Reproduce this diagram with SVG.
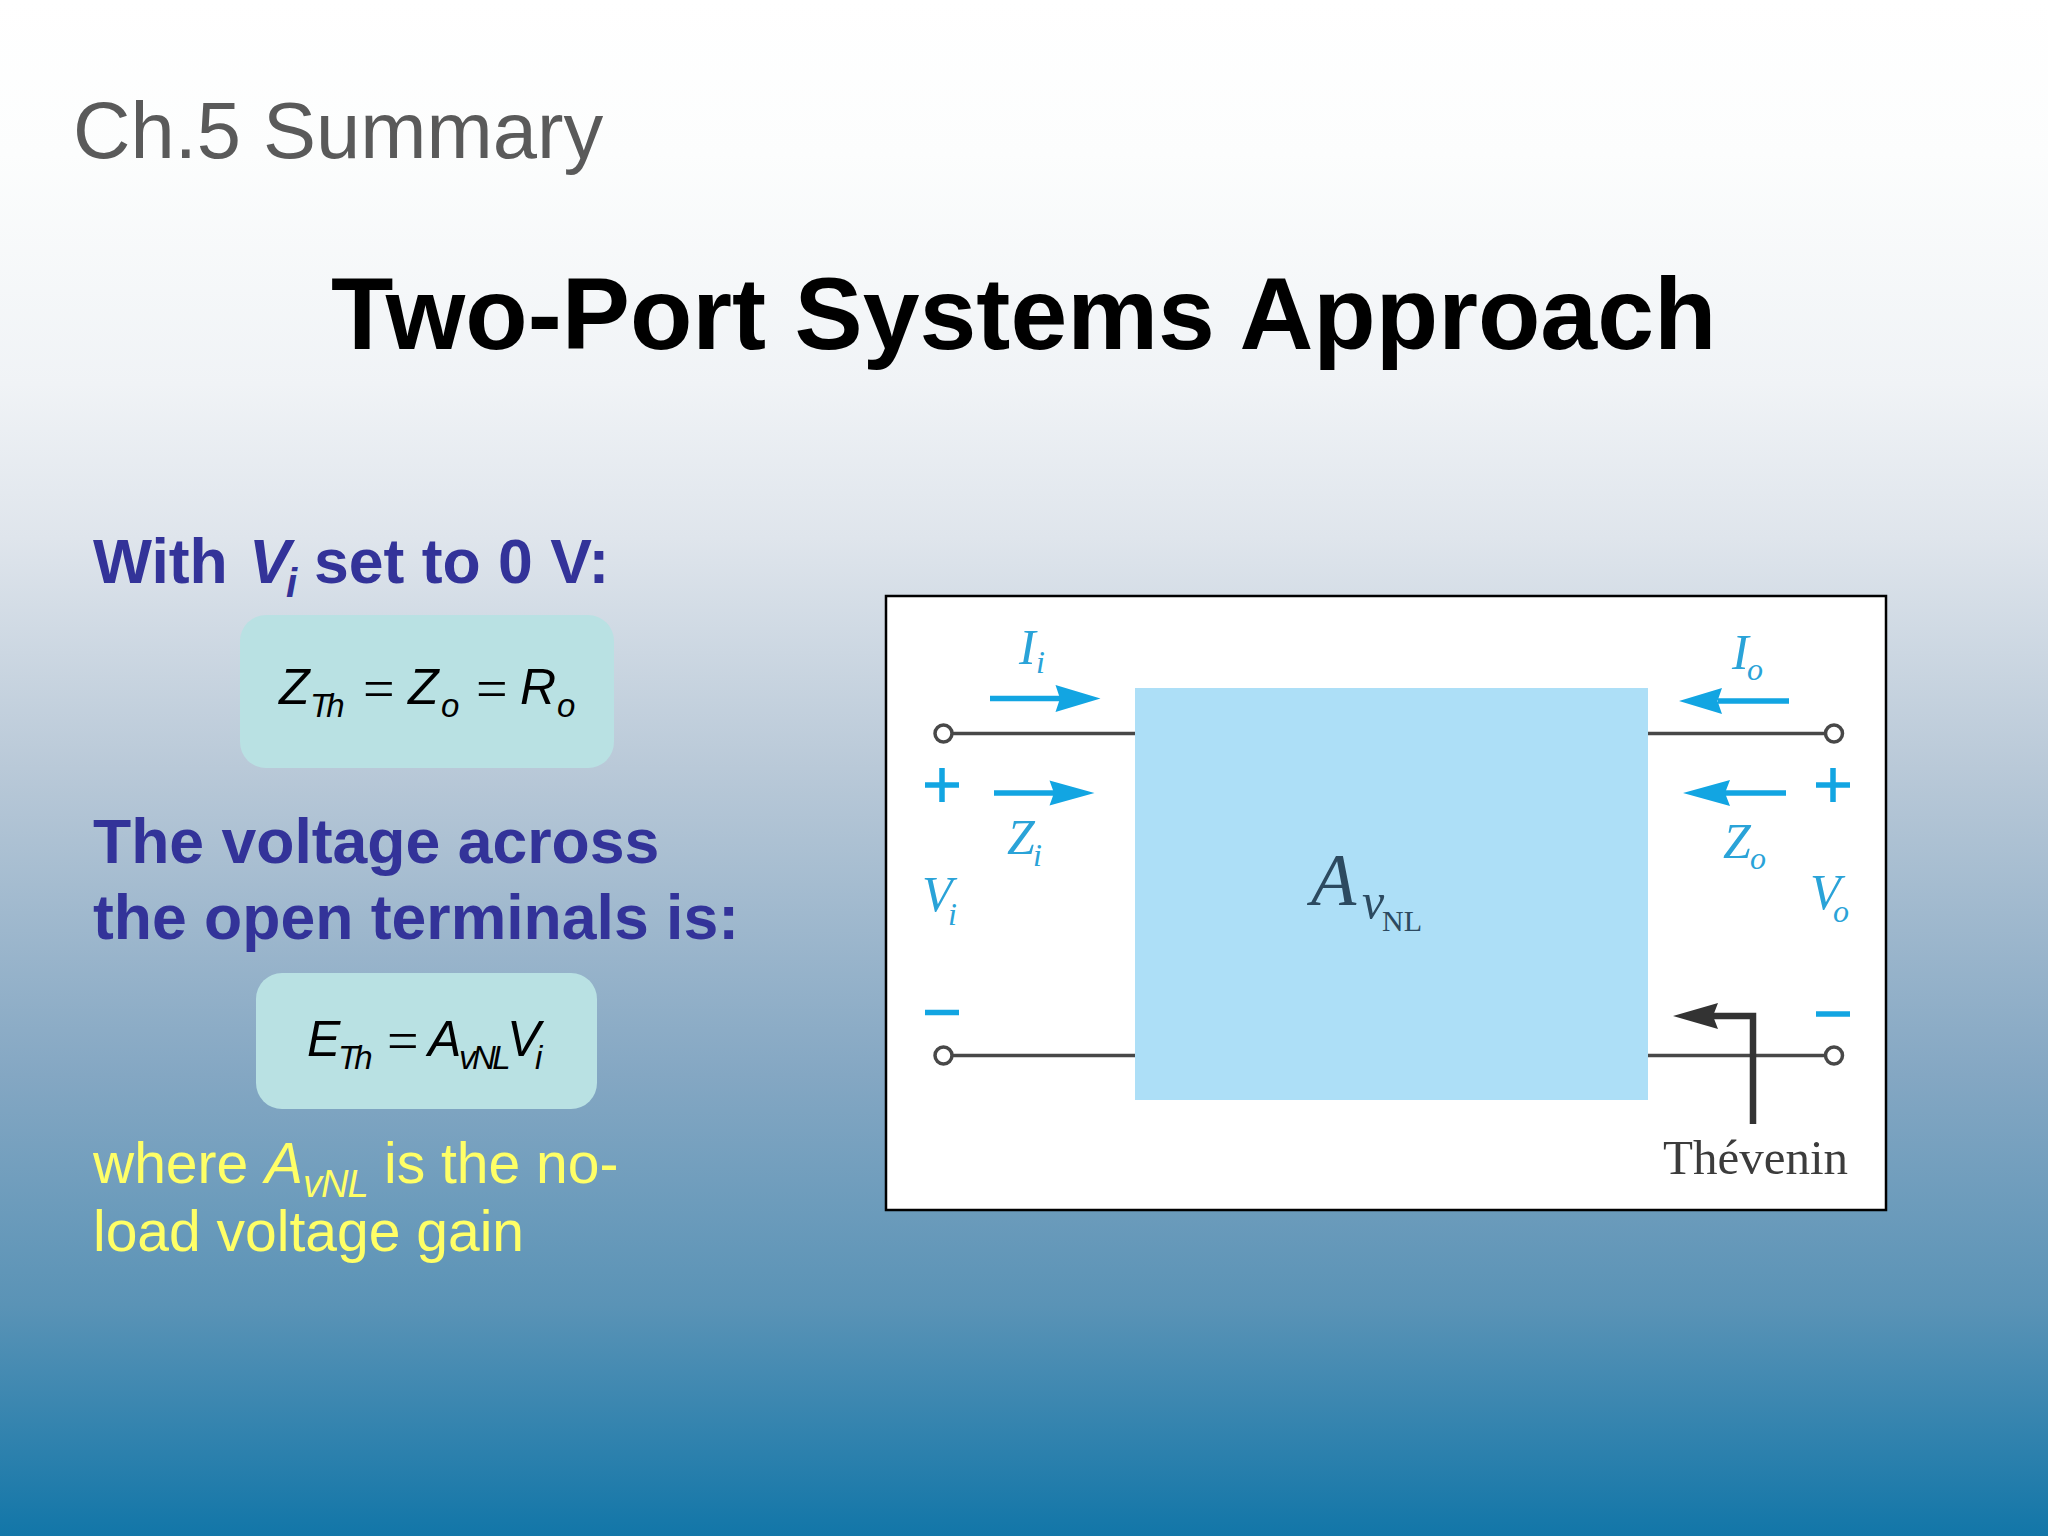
<svg xmlns="http://www.w3.org/2000/svg" width="2048" height="1536" viewBox="0 0 2048 1536">
<style>
text{font-family:"Liberation Sans",Arial,sans-serif}
.body{font-size:62.500px;font-weight:700;fill:#333399}
.yl{font-size:57px;fill:#ffff66}
.eq{font-size:50px;font-style:italic;fill:#000}
.eqs{font-size:33px;font-style:italic;fill:#000}
.op{font-family:"Liberation Serif",serif;font-size:56px;fill:#000}
.box{fill:#b9e1e3}
.t{font-family:"Liberation Serif",serif;font-style:italic;fill:#2aa3d8;font-size:50px}
.ts{font-family:"Liberation Serif",serif;font-style:italic;fill:#2aa3d8;font-size:32px}
.gain{font-family:"Liberation Serif",serif;fill:#2c4a60}
.thev{font-family:"Liberation Serif",serif;font-size:49px;fill:#3c3c3c}
.wire{fill:none;stroke:#484848;stroke-width:3.500}
.term{fill:#fff;stroke:#484848;stroke-width:3.500}
.cy{stroke:#12a5e2;fill:none}
.cyf{fill:#12a5e2}
</style>
<defs>
<linearGradient id="bg" x1="0" y1="0" x2="0" y2="1">
<stop offset="0" stop-color="#ffffff"/>
<stop offset="0.1" stop-color="#fcfdfd"/>
<stop offset="0.25" stop-color="#f0f3f6"/>
<stop offset="0.35" stop-color="#dfe5ec"/>
<stop offset="0.5" stop-color="#b9c9d8"/>
<stop offset="0.7" stop-color="#84a7c3"/>
<stop offset="0.85" stop-color="#5a93b6"/>
<stop offset="1" stop-color="#1276a8"/>
</linearGradient>
</defs>
<rect id="background" width="2048" height="1536" fill="url(#bg)"/>
<g id="headings">
<text x="73" y="158" font-size="79.500" fill="#5a5a5a">Ch.5 Summary</text>
<text x="331" y="349" font-size="102.200" font-weight="700" fill="#000">Two-Port Systems Approach</text>
</g>
<g id="text-with-vi">
<text class="body" x="93" y="583">With</text>
<text class="body" x="249" y="583" font-style="italic">V</text>
<text x="286" y="597" font-size="40" font-style="italic" font-weight="700" fill="#333399">i</text>
<text class="body" x="314" y="583">set to 0 V:</text>
</g>
<g id="eq-zth">
<rect class="box" x="240" y="615" width="374" height="153" rx="26"/>
<text class="eq" x="279" y="704">Z</text>
<text class="eqs" x="310" y="717" letter-spacing="-4">Th</text>
<text class="op" x="363" y="708">=</text>
<text class="eq" x="408" y="704">Z</text>
<text class="eqs" x="441" y="717">o</text>
<text class="op" x="476" y="708">=</text>
<text class="eq" x="520" y="704">R</text>
<text class="eqs" x="557" y="717">o</text>
</g>
<g id="text-voltage">
<text class="body" x="93" y="863">The voltage across</text>
<text class="body" x="93" y="939">the open terminals is:</text>
</g>
<g id="eq-eth">
<rect class="box" x="256" y="973" width="341" height="136" rx="26"/>
<text class="eq" x="307" y="1056">E</text>
<text class="eqs" x="338" y="1069" letter-spacing="-4">Th</text>
<text class="op" x="387" y="1060">=</text>
<text class="eq" x="428" y="1056">A</text>
<text class="eqs" x="459" y="1069" letter-spacing="-3.500">vNL</text>
<text class="eq" x="507" y="1056">V</text>
<text class="eqs" x="535" y="1069">i</text>
</g>
<g id="text-where">
<text class="yl" x="93" y="1183">where</text>
<text class="yl" x="265" y="1183" font-style="italic">A</text>
<text x="303" y="1197" font-size="38" font-style="italic" fill="#ffff66" letter-spacing="-1">vNL</text>
<text class="yl" x="384" y="1183">is the no-</text>
<text class="yl" x="93" y="1251">load voltage gain</text>
</g>
<g id="figure-frame">
<rect x="886" y="596" width="1000" height="614" fill="#fff" stroke="#000" stroke-width="2.500"/>
</g>
<g id="connectors">
<path class="wire" d="M952 733.500H1135M1647 733.500H1825M952 1055.500H1135M1647 1055.500H1825"/>
<path class="cy" stroke-width="5.500" d="M990 698.500H1060M994 793H1055M1789 701H1718M1786 793H1725"/>
<path class="cyf" d="M1100.500 698.500L1055.500 685L1060 698.500L1055.500 712ZM1094.500 793L1049.500 780.500L1054 793L1049.500 805.500ZM1679 701L1722 688L1717.500 701L1722 714ZM1683 793L1730 780L1725 793L1730 806Z"/>
<path d="M1753 1124V1016H1710" fill="none" stroke="#333" stroke-width="6.500"/>
<path d="M1673 1016L1718 1003L1713 1016L1718 1029Z" fill="#333"/>
</g>
<g id="terminals">
<circle class="term" cx="943.500" cy="733.500" r="8.500"/>
<circle class="term" cx="943.500" cy="1055.500" r="8.500"/>
<circle class="term" cx="1834" cy="733.500" r="8.500"/>
<circle class="term" cx="1834" cy="1055.500" r="8.500"/>
</g>
<g id="amp-block">
<rect x="1135" y="688" width="513" height="412" fill="#addff7"/>
<text class="gain" x="1311" y="905" font-style="italic" font-size="74">A</text>
<text class="gain" x="1362" y="918" font-style="italic" font-size="50">v</text>
<text class="gain" x="1382" y="931" font-size="30">NL</text>
</g>
<g id="port-labels">
<path class="cy" stroke-width="5.500" d="M925 785H959M942 768V802M1816 785H1850M1833 768V802M925 1012.500H959M1816 1014H1850"/>
<text class="t" x="1019" y="664">I</text><text class="ts" x="1036" y="673">i</text>
<text class="t" x="1007" y="854">Z</text><text class="ts" x="1033" y="866">i</text>
<text class="t" x="922" y="911">V</text><text class="ts" x="948" y="925">i</text>
<text class="t" x="1732" y="669">I</text><text class="ts" x="1747" y="680">o</text>
<text class="t" x="1723" y="858">Z</text><text class="ts" x="1750" y="869">o</text>
<text class="t" x="1810" y="909">V</text><text class="ts" x="1833" y="922">o</text>
<text class="thev" x="1663" y="1174">Thévenin</text>
</g>
</svg>
